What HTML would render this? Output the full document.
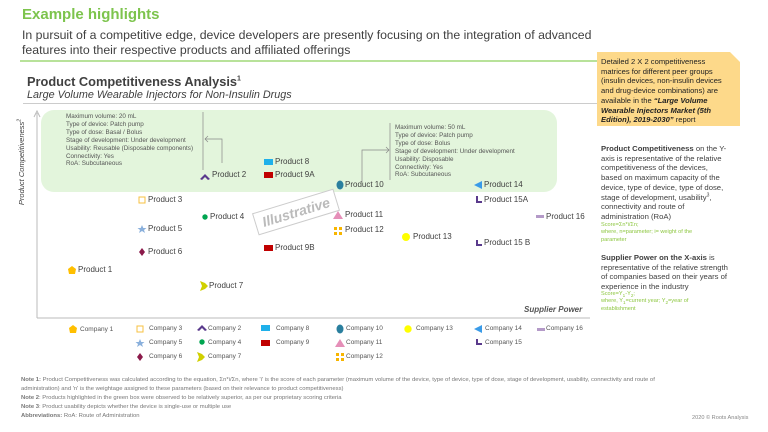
<!DOCTYPE html>
<html><head><meta charset="utf-8"><style>
*{margin:0;padding:0;box-sizing:border-box}
body{width:768px;height:432px;background:#fff;position:relative;overflow:hidden;font-family:"Liberation Sans",sans-serif;color:#404040}
.a{position:absolute;white-space:nowrap}
.p{font-size:8px;color:#404040}
.m{position:absolute}
.lg{font-size:6.5px;color:#555;line-height:8px}
.blk{font-size:6.3px;line-height:7.9px;color:#555}
sup,sub{line-height:0}
</style></head><body>
<div class="a" style="left:22px;top:6px;font-size:15px;font-weight:bold;color:#7dc44d">Example highlights</div>
<div class="a" style="left:22px;top:28px;font-size:12.3px;line-height:15px;color:#404040">In pursuit of a competitive edge, device developers are presently focusing on the integration of advanced<br>features into their respective products and affiliated offerings</div>
<div class="m" style="left:20px;top:60px;width:580px;height:1.5px;background:#b8e29a"></div>
<div class="a" style="left:27px;top:74px;font-size:12.8px;font-weight:bold;color:#404040">Product Competitiveness Analysis<sup style="font-size:7px">1</sup></div>
<div class="a" style="left:27px;top:89px;font-size:10.8px;font-style:italic;color:#404040">Large Volume Wearable Injectors for Non-Insulin Drugs</div>
<div class="m" style="left:23px;top:103px;width:575px;height:1px;background:#ccc"></div>
<svg class="m" style="left:597px;top:52px" width="143" height="74"><path d="M0 0H133L143 10V74H0Z" fill="#fdd98a"/></svg>
<div class="a" style="left:601px;top:57px;font-size:7.6px;line-height:9.7px;color:#222">Detailed 2 X 2 competitiveness<br>matrices for different peer groups<br>(insulin devices, non-insulin devices<br>and drug-device combinations) are<br>available in the <b><i>“Large Volume<br>Wearable Injectors Market (5th<br>Edition), 2019-2030”</i></b> report</div>
<div class="a" style="left:601px;top:144px;font-size:7.7px;line-height:9.7px;color:#404040"><b>Product Competitiveness</b> on the Y-<br>axis is representative of the relative<br>competitiveness of the devices,<br>based on maximum capacity of the<br>device, type of device, type of dose,<br>stage of development, usability<sup style="font-size:5px">3</sup>,<br>connectivity and route of<br>administration (RoA)</div>
<div class="a" style="left:601px;top:222px;font-size:5.6px;line-height:7.3px;color:#8cc63f">Score=Σn*i/Σn;<br>where, n=parameter; i= weight of the<br>parameter</div>
<div class="a" style="left:601px;top:253px;font-size:7.7px;line-height:9.7px;color:#404040"><b>Supplier Power on the X-axis</b> is<br>representative of the relative strength<br>of companies based on their years of<br>experience in the industry</div>
<div class="a" style="left:601px;top:291px;font-size:5.6px;line-height:7.3px;color:#8cc63f">Score=Y<sub>1</sub>-Y<sub>2</sub>;<br>where, Y<sub>1</sub>=current year; Y<sub>2</sub>=year of<br>establishment</div>

<div class="m" style="left:41px;top:110px;width:516px;height:82px;background:#e3f5dc;border-radius:13px"></div>
<svg class="m" style="left:0;top:0" width="768" height="432">
<line x1="37" y1="318" x2="37" y2="113" stroke="#bbb" stroke-width="1"/>
<path d="M34 117L37 111L40 117" fill="none" stroke="#bbb"/>
<line x1="37" y1="318" x2="590" y2="318" stroke="#bbb"/>
<line x1="203" y1="112" x2="203" y2="170" stroke="#888" stroke-width="0.7"/>
<path d="M222 163V139H205M208 136L205 139L208 142" fill="none" stroke="#888" stroke-width="0.7"/>
<line x1="390" y1="123" x2="390" y2="180" stroke="#888" stroke-width="0.7"/>
<path d="M362 182V150H389M386 147L389 150L386 153" fill="none" stroke="#888" stroke-width="0.7"/>
<g transform="translate(296,212) rotate(-17)"><rect x="-42" y="-11" width="84" height="22" fill="#fff" stroke="#ccc"/><text x="0" y="5" text-anchor="middle" font-family="Liberation Sans" font-size="14" font-weight="bold" font-style="italic" fill="#bbb">Illustrative</text></g>
<path d="M200 179L205 174L210 179L208 180L205 177L202 180Z" fill="#5a3a8c"/>
<rect x="264" y="159" width="9" height="6" fill="#1fb0ea"/>
<rect x="264" y="172" width="9" height="6" fill="#c00000"/>
<ellipse cx="340" cy="185" rx="3.5" ry="4.5" fill="#2a7f9e"/>
<path d="M474 185L482 181V189Z" fill="#3a9be8"/>
<path d="M476 196V203H482V201H478V196Z" fill="#5a3a8c"/>
<path d="M476 240V246H482V244H478V240Z" fill="#5a3a8c"/>
<rect x="536" y="215" width="8" height="3" fill="#b49ac8"/>
<path d="M338 211L343 219H333Z" fill="#e58fb8"/>
<g fill="#f7b500"><rect x="334" y="227" width="3" height="3"/><rect x="339" y="227" width="3" height="3"/><rect x="334" y="232" width="3" height="3"/><rect x="339" y="232" width="3" height="3"/></g>
<circle cx="406" cy="237" r="4" fill="#ffff00"/>
<rect x="139" y="197" width="6" height="6" fill="none" stroke="#f7c040" stroke-width="1"/>
<circle cx="205" cy="217" r="2.7" fill="#00a550"/>
<path d="M142 225L143.3 228H146.5L144 230L145 233L142 231L139 233L140 230L137.5 228H140.7Z" fill="#8ab0dc"/>
<path d="M142 248L145 252L142 256L139 252Z" fill="#8b1a4a"/>
<path d="M72 266L76 269L75 274H69L68 269Z" fill="#ffbf00"/>
<path d="M200 281L205 283L208 286L205 289L200 291L202 286Z" fill="#d0d000"/>
<rect x="264" y="245" width="9" height="6" fill="#c00000"/>
</svg>
<div class="a blk" style="left:66px;top:113px">Maximum volume: 20 mL<br>Type of device: Patch pump<br>Type of dose: Basal / Bolus<br>Stage of development: Under development<br>Usability: Reusable (Disposable components)<br>Connectivity: Yes<br>RoA: Subcutaneous</div>
<div class="a blk" style="left:395px;top:124px">Maximum volume: 50 mL<br>Type of device: Patch pump<br>Type of dose: Bolus<br>Stage of development: Under development<br>Usability: Disposable<br>Connectivity: Yes<br>RoA: Subcutaneous</div>
<div class="a" style="left:17px;top:212px;transform:rotate(-90deg);transform-origin:0 0;font-size:7.5px;font-style:italic;color:#404040;width:100px;text-align:center">Product Competitiveness<sup style="font-size:5px">2</sup></div>
<div class="a" style="left:524px;top:305px;font-size:8px;font-weight:bold;font-style:italic;color:#555">Supplier Power</div>
<div class="a p" style="left:212px;top:170px">Product 2</div>
<div class="a p" style="left:275px;top:157px">Product 8</div>
<div class="a p" style="left:275px;top:170px">Product 9A</div>
<div class="a p" style="left:345px;top:180px">Product 10</div>
<div class="a p" style="left:484px;top:180px">Product 14</div>
<div class="a p" style="left:484px;top:195px">Product 15A</div>
<div class="a p" style="left:546px;top:212px">Product 16</div>
<div class="a p" style="left:345px;top:210px">Product 11</div>
<div class="a p" style="left:345px;top:225px">Product 12</div>
<div class="a p" style="left:413px;top:232px">Product 13</div>
<div class="a p" style="left:484px;top:238px">Product 15 B</div>
<div class="a p" style="left:148px;top:195px">Product 3</div>
<div class="a p" style="left:210px;top:212px">Product 4</div>
<div class="a p" style="left:148px;top:224px">Product 5</div>
<div class="a p" style="left:148px;top:247px">Product 6</div>
<div class="a p" style="left:78px;top:265px">Product 1</div>
<div class="a p" style="left:209px;top:281px">Product 7</div>
<div class="a p" style="left:275px;top:243px">Product 9B</div>
<svg class="m" style="left:0;top:0" width="600" height="370">
<path d="M73 325L77 328L76 333H70L69 328Z" fill="#ffbf00"/>
<rect x="137" y="326" width="6" height="6" fill="none" stroke="#f7c040"/>
<path d="M140 339L141.3 342H144.5L142 344L143 347L140 345L137 347L138 344L135.5 342H138.7Z" fill="#8ab0dc"/>
<path d="M140 353L143 357L140 361L137 357Z" fill="#8b1a4a"/>
<path d="M197 330L202 325L207 330L205 331L202 328L199 331Z" fill="#5a3a8c"/>
<circle cx="202" cy="342" r="2.7" fill="#00a550"/>
<path d="M197 352L202 354L205 357L202 360L197 362L199 357Z" fill="#d0d000"/>
<rect x="261" y="325" width="9" height="6" fill="#1fb0ea"/>
<rect x="261" y="340" width="9" height="6" fill="#c00000"/>
<ellipse cx="340" cy="329" rx="3.5" ry="4.5" fill="#2a7f9e"/>
<path d="M340 339L345 347H335Z" fill="#e58fb8"/>
<g fill="#f7b500"><rect x="336" y="353" width="3" height="3"/><rect x="341" y="353" width="3" height="3"/><rect x="336" y="358" width="3" height="3"/><rect x="341" y="358" width="3" height="3"/></g>
<circle cx="408" cy="329" r="3.7" fill="#ffff00"/>
<path d="M474 329L482 325V333Z" fill="#3a9be8"/>
<path d="M476 339V345H482V343H478V339Z" fill="#5a3a8c"/>
<rect x="537" y="328" width="8" height="3" fill="#b49ac8"/>
</svg>
<div class="a lg" style="left:80px;top:326px">Company 1</div>
<div class="a lg" style="left:149px;top:325px">Company 3</div>
<div class="a lg" style="left:149px;top:339px">Company 5</div>
<div class="a lg" style="left:149px;top:353px">Company 6</div>
<div class="a lg" style="left:208px;top:325px">Company 2</div>
<div class="a lg" style="left:208px;top:339px">Company 4</div>
<div class="a lg" style="left:208px;top:353px">Company 7</div>
<div class="a lg" style="left:276px;top:325px">Company 8</div>
<div class="a lg" style="left:276px;top:339px">Company 9</div>
<div class="a lg" style="left:346px;top:325px">Company 10</div>
<div class="a lg" style="left:346px;top:339px">Company 11</div>
<div class="a lg" style="left:346px;top:353px">Company 12</div>
<div class="a lg" style="left:416px;top:325px">Company 13</div>
<div class="a lg" style="left:485px;top:325px">Company 14</div>
<div class="a lg" style="left:485px;top:339px">Company 15</div>
<div class="a lg" style="left:546px;top:325px">Company 16</div>
<div class="a" style="left:21px;top:376px;font-size:5.9px;line-height:9px;color:#777"><b>Note 1:</b> Product Competitiveness was calculated according to the equation, Σn*i/Σn, where 'i' is the score of each parameter (maximum volume of the device, type of device, type of dose, stage of development, usability, connectivity and route of<br>administration) and 'n' is the weightage assigned to these parameters (based on their relevance to product competitiveness)<br><b>Note 2</b>: Products highlighted in the green box were observed to be relatively superior, as per our proprietary scoring criteria<br><b>Note 3</b>: Product usability depicts whether the device is single-use or multiple use<br><b>Abbreviations:</b> RoA: Route of Administration</div>
<div class="a" style="left:692px;top:415px;font-size:5.6px;color:#888">2020 © Roots Analysis</div>
</body></html>
